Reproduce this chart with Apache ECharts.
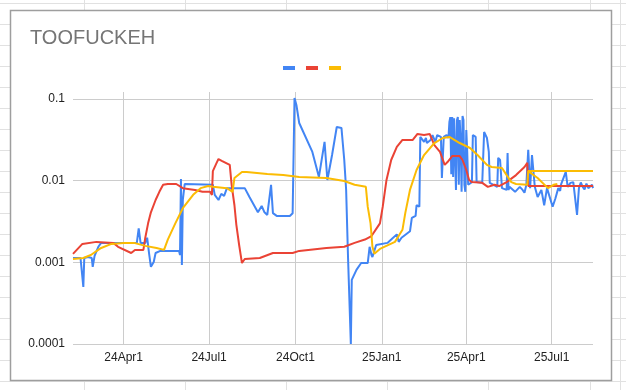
<!DOCTYPE html>
<html><head><meta charset="utf-8">
<script src="https://cdn.jsdelivr.net/npm/echarts@6/dist/echarts.min.js"></script>
<style>html,body{margin:0;padding:0;background:#fff}#c{width:626px;height:390px}</style>
</head><body><div id="c"></div>
<script>
const chartTitle = 'TOOFUCKEH';
const startDate = '2024-02-07';
const endDate = '2025-08-14';
const yTickValues = [0.0001, 0.001, 0.01, 0.1];
const yTickLabels = ['0.0001', '0.001', '0.01', '0.1'];
const monthNames = ['Jan','Feb','Mar','Apr','May','Jun','Jul','Aug','Sep','Oct','Nov','Dec'];
const seriesColors = ['#4285F4', '#EA4335', '#FBBC04'];

const blueSeries = [
['2024-02-07',0.00113],['2024-02-15',0.00113],['2024-02-17',0.00113],['2024-02-18',0.0005],['2024-02-19',0.00113],
['2024-02-23',0.00116],['2024-02-27',0.00113],['2024-02-28',0.00088],['2024-03-01',0.0012],['2024-03-05',0.00155],
['2024-03-08',0.00173],['2024-04-15',0.00173],['2024-04-17',0.0026],['2024-04-19',0.00173],['2024-04-24',0.00173],
['2024-04-26',0.002],['2024-04-28',0.0013],['2024-04-30',0.00088],['2024-05-03',0.00101],['2024-05-05',0.0013],
['2024-05-10',0.00138],['2024-05-30',0.00138],['2024-05-31',0.00123],['2024-06-01',0.0105],['2024-06-02',0.00093],
['2024-06-03',0.0058],['2024-06-05',0.0091],['2024-07-05',0.0089],['2024-07-07',0.0067],['2024-07-11',0.0058],
['2024-07-14',0.0069],['2024-07-17',0.0065],['2024-07-20',0.0081],['2024-08-08',0.0081],['2024-08-13',0.0063],
['2024-08-22',0.0041],['2024-08-26',0.0049],['2024-08-29',0.0041],['2024-09-01',0.0038],['2024-09-05',0.0089],
['2024-09-07',0.004],['2024-09-11',0.0037],['2024-09-25',0.0037],['2024-09-28',0.004],['2024-09-30',0.103],
['2024-10-02',0.0845],['2024-10-05',0.0508],['2024-10-19',0.0225],['2024-10-26',0.0111],['2024-11-01',0.0298],
['2024-11-04',0.0102],['2024-11-09',0.0206],['2024-11-14',0.0454],['2024-11-19',0.0442],['2024-11-22',0.0179],
['2024-11-24',0.0077],['2024-11-26',0.00116],['2024-11-29',0.0001],['2024-11-30',0.00061],['2024-12-05',0.00081],
['2024-12-10',0.00098],['2024-12-17',0.00098],['2024-12-19',0.00155],['2024-12-21',0.00123],['2024-12-22',0.00116],
['2024-12-26',0.00163],['2025-01-07',0.00173],['2025-01-11',0.0019],['2025-01-17',0.0022],['2025-01-19',0.00178],
['2025-01-22',0.002],['2025-01-31',0.0024],['2025-02-02',0.0035],['2025-02-06',0.0037],['2025-02-07',0.005],
['2025-02-10',0.0048],['2025-02-11',0.0343],['2025-02-15',0.0298],['2025-02-17',0.0333],['2025-02-18',0.0289],
['2025-02-22',0.0315],['2025-02-24',0.0362],['2025-02-27',0.0298],['2025-03-01',0.0362],['2025-03-05',0.0343],
['2025-03-06',0.0108],['2025-03-08',0.0343],['2025-03-11',0.0362],['2025-03-13',0.0333],['2025-03-14',0.0523],
['2025-03-15',0.06],['2025-03-16',0.012],['2025-03-17',0.06],['2025-03-18',0.0111],['2025-03-19',0.058],
['2025-03-20',0.058],['2025-03-21',0.0077],['2025-03-22',0.055],['2025-03-23',0.06],['2025-03-24',0.0089],
['2025-03-25',0.0553],['2025-03-26',0.03],['2025-03-27',0.0073],['2025-03-28',0.062],['2025-03-29',0.0553],
['2025-03-30',0.0089],['2025-03-31',0.0073],['2025-04-01',0.0417],['2025-04-02',0.0225],['2025-04-03',0.0089],
['2025-04-07',0.0096],['2025-04-08',0.0362],['2025-04-11',0.0343],['2025-04-12',0.0096],['2025-04-18',0.0094],
['2025-04-20',0.0394],['2025-04-23',0.0333],['2025-04-25',0.0225],['2025-04-26',0.0094],['2025-05-04',0.0084],
['2025-05-05',0.019],['2025-05-07',0.0179],['2025-05-09',0.0081],['2025-05-14',0.0077],['2025-05-15',0.0218],
['2025-05-16',0.0077],['2025-05-17',0.0084],['2025-05-23',0.0073],['2025-05-25',0.0073],['2025-05-28',0.0084],
['2025-05-31',0.0077],['2025-06-02',0.0071],['2025-06-04',0.0089],['2025-06-06',0.0238],['2025-06-08',0.0081],
['2025-06-10',0.0206],['2025-06-13',0.0084],['2025-06-16',0.0063],['2025-06-20',0.0077],['2025-06-23',0.005],
['2025-06-26',0.0081],['2025-07-02',0.0048],['2025-07-05',0.0061],['2025-07-08',0.0081],['2025-07-10',0.0075],
['2025-07-11',0.009],['2025-07-13',0.0089],['2025-07-16',0.0128],['2025-07-18',0.0084],['2025-07-21',0.0094],
['2025-07-24',0.0096],['2025-07-28',0.0038],['2025-07-30',0.0081],['2025-08-01',0.0095],['2025-08-03',0.0084],
['2025-08-05',0.0078],['2025-08-07',0.0092],['2025-08-09',0.0081],['2025-08-11',0.0078],['2025-08-13',0.0089],
['2025-08-14',0.0081]
];

const redSeries = [
['2024-02-07',0.00127],['2024-02-17',0.00168],['2024-03-03',0.00178],['2024-03-21',0.00173],['2024-03-26',0.00155],
['2024-04-09',0.0013],['2024-04-13',0.00142],['2024-04-22',0.00142],['2024-04-24',0.002],['2024-04-27',0.003],
['2024-04-30',0.0041],['2024-05-05',0.0058],['2024-05-09',0.0073],['2024-05-13',0.0089],['2024-05-18',0.0091],
['2024-05-27',0.0091],['2024-06-03',0.0081],['2024-06-16',0.0077],['2024-06-24',0.0073],['2024-07-02',0.0073],
['2024-07-04',0.0067],['2024-07-05',0.0131],['2024-07-09',0.0165],['2024-07-11',0.0184],['2024-07-15',0.0174],
['2024-07-23',0.0156],['2024-07-25',0.0089],['2024-07-28',0.005],['2024-07-30',0.0029],['2024-08-02',0.00163],
['2024-08-05',0.00098],['2024-08-08',0.0011],['2024-08-24',0.00113],['2024-09-07',0.0013],['2024-09-28',0.0013],
['2024-10-05',0.00138],['2024-11-03',0.0015],['2024-11-22',0.00155],['2024-12-03',0.00173],['2024-12-14',0.0019],
['2024-12-21',0.0021],['2024-12-30',0.003],['2025-01-02',0.0048],['2025-01-06',0.0102],['2025-01-11',0.0179],
['2025-01-17',0.0259],['2025-01-23',0.0315],['2025-02-03',0.0315],['2025-02-08',0.0373],['2025-02-15',0.0362],
['2025-02-21',0.0373],['2025-02-26',0.0273],['2025-03-04',0.0225],['2025-03-09',0.0156],['2025-03-12',0.0169],
['2025-03-17',0.02],['2025-03-25',0.02],['2025-03-28',0.0179],['2025-04-01',0.0135],['2025-04-04',0.0102],
['2025-04-07',0.0096],['2025-04-18',0.0094],['2025-04-24',0.0084],['2025-05-01',0.0089],['2025-05-06',0.0086],
['2025-05-14',0.0096],['2025-05-24',0.0117],['2025-06-02',0.0147],['2025-06-05',0.0165],['2025-06-06',0.0086],
['2025-08-14',0.0086]
];

const yellowSeries = [
['2024-02-07',0.0011],['2024-02-18',0.00113],['2024-02-26',0.00123],['2024-03-08',0.0015],['2024-03-19',0.00168],
['2024-04-01',0.00173],['2024-04-12',0.00173],['2024-04-24',0.00159],['2024-05-06',0.0015],['2024-05-14',0.00142],
['2024-05-18',0.0019],['2024-05-26',0.003],['2024-06-03',0.0046],['2024-06-14',0.0067],['2024-06-22',0.0081],
['2024-06-30',0.0086],['2024-07-05',0.0084],['2024-07-20',0.0081],['2024-07-26',0.0073],['2024-07-28',0.0108],
['2024-08-05',0.0128],['2024-08-10',0.0128],['2024-09-01',0.0121],['2024-09-18',0.0117],['2024-10-05',0.0111],
['2024-11-03',0.0108],['2024-11-22',0.0099],['2024-12-03',0.0089],['2024-12-15',0.0084],['2024-12-17',0.0048],
['2024-12-20',0.003],['2024-12-22',0.00155],['2024-12-24',0.00127],['2024-12-30',0.00146],['2025-01-15',0.00178],
['2025-01-23',0.0025],['2025-01-26',0.004],['2025-01-31',0.0077],['2025-02-07',0.0135],['2025-02-15',0.0206],
['2025-02-26',0.0289],['2025-03-07',0.0333],['2025-03-14',0.0343],['2025-03-25',0.0289],['2025-04-05',0.0251],
['2025-04-13',0.0206],['2025-04-23',0.0156],['2025-04-28',0.0147],['2025-05-09',0.0143],['2025-05-14',0.0117],
['2025-05-19',0.0096],['2025-05-24',0.0091],['2025-06-05',0.0089],['2025-06-06',0.0131],['2025-08-14',0.0131],
['2025-06-06',0.0131],['2025-06-16',0.0108],['2025-06-27',0.0081],['2025-07-03',0.0089],['2025-07-07',0.0091]
];

function fmtDate(d) {
  const m = d.getUTCMonth() + 1, day = d.getUTCDate();
  return d.getUTCFullYear() + '-' + (m < 10 ? '0' : '') + m + '-' + (day < 10 ? '0' : '') + day;
}
const categories = [];
for (let t = Date.parse(startDate + 'T00:00:00Z'); t <= Date.parse(endDate + 'T00:00:00Z'); t += 86400000) {
  categories.push(fmtDate(new Date(t)));
}
function isQuarterStart(v) {
  const p = v.split('-');
  return p[2] === '01' && ['01', '04', '07', '10'].indexOf(p[1]) >= 0;
}
function quarterLabel(v) {
  const p = v.split('-');
  return p[0].slice(2) + monthNames[parseInt(p[1], 10) - 1] + parseInt(p[2], 10);
}

const bgLines = [];
const gridColor = '#e1e1e1';
for (let k = 0; k <= 18; k++) {
  const y = 3.5 + 21 * k;
  bgLines.push({type: 'line', z: -100, silent: true, shape: {x1: 0, y1: y, x2: 626, y2: y}, style: {stroke: gridColor, lineWidth: 1}});
}
[84, 185, 286, 387, 488, 590, 620].forEach(function (x) {
  bgLines.push({type: 'line', z: -100, silent: true, shape: {x1: x + 0.5, y1: 0, x2: x + 0.5, y2: 390}, style: {stroke: gridColor, lineWidth: 1}});
});
bgLines.push({type: 'rect', z: -90, silent: true, shape: {x: 10.5, y: 10.5, width: 601, height: 370},
  style: {fill: '#ffffff', stroke: '#9e9e9e', lineWidth: 1.5}});

const chart = echarts.init(document.getElementById('c'), null, {renderer: 'canvas'});
const font = '"Liberation Sans", Arial, sans-serif';
chart.setOption({
  animation: false,
  backgroundColor: 'transparent',
  color: seriesColors,
  graphic: bgLines,
  title: {text: chartTitle, left: 30, top: 28, padding: 0,
    textStyle: {fontFamily: font, fontSize: 20, fontWeight: 'normal', color: '#757575'}},
  legend: {left: 278, top: 61, itemWidth: 12, itemHeight: 4, itemGap: 11, icon: 'rect',
    formatter: function () { return ''; }, textStyle: {fontSize: 8},
    data: ['s1', 's2', 's3']},
  grid: {left: 73, right: 33, top: 92, bottom: 46, containLabel: false},
  xAxis: {
    type: 'category', data: categories, boundaryGap: false,
    axisLine: {show: false}, axisTick: {show: false},
    axisLabel: {interval: function (i, v) { return isQuarterStart(v); },
      formatter: function (v) { return quarterLabel(v); },
      fontFamily: font, fontSize: 12, color: '#222', margin: 8},
    splitLine: {show: true, interval: function (i, v) { return isQuarterStart(v); },
      lineStyle: {color: '#cccccc', width: 1}}
  },
  yAxis: {
    type: 'log', logBase: 10, min: 0.0001, max: 0.1218,
    axisLine: {show: false}, axisTick: {show: false},
    axisLabel: {showMaxLabel: false, fontFamily: font, fontSize: 12, color: '#222', margin: 8,
      formatter: function (v) {
        for (let i = 0; i < yTickValues.length; i++) {
          if (Math.abs(Math.log10(v) - Math.log10(yTickValues[i])) < 1e-6) return yTickLabels[i];
        }
        return '';
      }},
    splitLine: {show: true, showMaxLine: false, lineStyle: {color: '#cccccc', width: 1}}
  },
  series: [
    {name: 's1', type: 'line', data: blueSeries, showSymbol: false, symbol: 'none', lineStyle: {width: 2}, z: 2},
    {name: 's2', type: 'line', data: redSeries, showSymbol: false, symbol: 'none', lineStyle: {width: 2}, z: 3},
    {name: 's3', type: 'line', data: yellowSeries, showSymbol: false, symbol: 'none', lineStyle: {width: 2}, z: 4}
  ]
});
</script></body></html>
